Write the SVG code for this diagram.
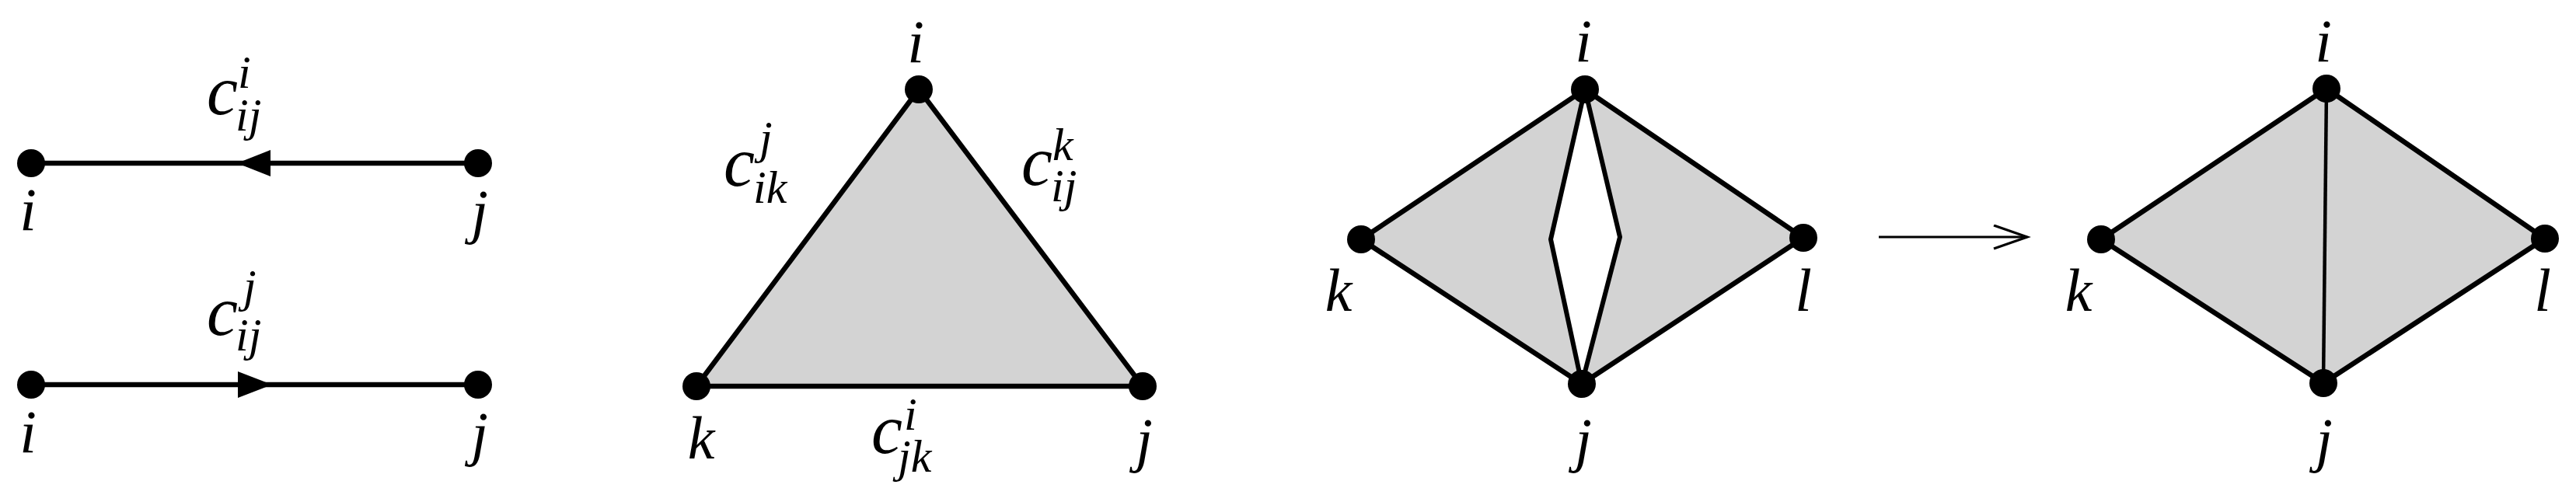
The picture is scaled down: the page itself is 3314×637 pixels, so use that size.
<svg xmlns="http://www.w3.org/2000/svg" width="3314" height="637" viewBox="0 0 3314 637">
<style>
.t{font-family:"Liberation Serif","Times New Roman",serif;font-style:italic;fill:#000}
.lbl{font-size:78px;text-anchor:middle}
.c{font-size:90px}
.s{font-size:60px}
.e{stroke:#000;stroke-width:6.5;fill:none;stroke-linecap:round;stroke-linejoin:round}
.thin{stroke:#000;stroke-width:4.5;fill:none}
.face{fill:#d3d3d3;stroke:none}
.nd{fill:#000}
</style>
<defs>
<marker id="chev" markerWidth="60" markerHeight="40" refX="44" refY="16" orient="auto" markerUnits="userSpaceOnUse">
<path d="M1,1 L44,16 L1,31" fill="none" stroke="#000" stroke-width="3.2"/>
</marker>
</defs>
<rect width="3314" height="637" fill="#fff"/>
<g id="faces">
<polygon class="face" points="1182,115 896,497 1470,497"/>
<polygon class="face" points="2039,115 2320,306 2035,494 1751,308"/>
<polygon points="2039,115 1995,308 2035,494 2084,305" fill="#fff" stroke="#000" stroke-width="6" stroke-linejoin="round"/>
<polygon class="face" points="2993,114 3274,307 2989,493 2703,308"/>
</g>
<g id="connectors">
<line class="e" x1="40" y1="210" x2="615" y2="210"/>
<polygon points="305,210 348,193 348,227" fill="#000"/>
<line class="e" x1="40" y1="495" x2="615" y2="495"/>
<polygon points="350,495 306,478 306,512" fill="#000"/>
<polygon class="e" points="1182,115 896,497 1470,497"/>
<polygon class="e" points="2039,115 2320,306 2035,494 1751,308"/>
<line x1="2417" y1="305" x2="2608" y2="305" stroke="#000" stroke-width="3.2" marker-end="url(#chev)"/>
<polygon class="e" points="2993,114 3274,307 2989,493 2703,308"/>
<line class="thin" x1="2993" y1="114" x2="2989" y2="493"/>
</g>
<g id="edge-labels">
<text id="lab-top" class="t"><tspan class="c" x="266" y="147">c</tspan><tspan class="s" x="306" y="113">i</tspan><tspan class="s" x="303" y="168">ij</tspan></text>
<text id="lab-bottom" class="t"><tspan class="c" x="266" y="431">c</tspan><tspan class="s" x="313" y="388">j</tspan><tspan class="s" x="303" y="451">ij</tspan></text>
<text id="lab-ik" class="t"><tspan class="c" x="931" y="239">c</tspan><tspan class="s" x="977" y="197">j</tspan><tspan class="s" x="969" y="261">ik</tspan></text>
<text id="lab-ij" class="t"><tspan class="c" x="1314" y="238">c</tspan><tspan class="s" x="1354" y="206">k</tspan><tspan class="s" x="1352" y="259">ij</tspan></text>
<text id="lab-jk" class="t"><tspan class="c" x="1121" y="583">c</tspan><tspan class="s" x="1163" y="553">i</tspan><tspan class="s" x="1155" y="607">jk</tspan></text>
</g>
<g id="n1i"><circle class="nd" cx="40" cy="210" r="18"/><text class="t lbl" x="36" y="296">i</text></g>
<g id="n1j"><circle class="nd" cx="615" cy="210" r="18"/><text class="t lbl" x="617" y="298">j</text></g>
<g id="n2i"><circle class="nd" cx="40" cy="495" r="18"/><text class="t lbl" x="36" y="582">i</text></g>
<g id="n2j"><circle class="nd" cx="615" cy="495" r="18"/><text class="t lbl" x="617" y="584">j</text></g>
<g id="t-i"><circle class="nd" cx="1182" cy="115" r="18"/><text class="t lbl" x="1178" y="80">i</text></g>
<g id="t-k"><circle class="nd" cx="896" cy="497" r="18"/><text class="t lbl" x="902" y="590">k</text></g>
<g id="t-j"><circle class="nd" cx="1470" cy="497" r="18"/><text class="t lbl" x="1472" y="592">j</text></g>
<g id="d1-i"><circle class="nd" cx="2039" cy="115" r="18"/><text class="t lbl" x="2037" y="79">i</text></g>
<g id="d1-k"><circle class="nd" cx="1751" cy="308" r="18"/><text class="t lbl" x="1722" y="400">k</text></g>
<g id="d1-l"><circle class="nd" cx="2320" cy="306" r="18"/><text class="t lbl" x="2320" y="400">l</text></g>
<g id="d1-j"><circle class="nd" cx="2035" cy="494" r="18"/><text class="t lbl" x="2037" y="592">j</text></g>
<g id="d2-i"><circle class="nd" cx="2993" cy="114" r="18"/><text class="t lbl" x="2989" y="79">i</text></g>
<g id="d2-k"><circle class="nd" cx="2703" cy="308" r="18"/><text class="t lbl" x="2674" y="400">k</text></g>
<g id="d2-l"><circle class="nd" cx="3274" cy="307" r="18"/><text class="t lbl" x="3271" y="400">l</text></g>
<g id="d2-j"><circle class="nd" cx="2989" cy="493" r="18"/><text class="t lbl" x="2990" y="592">j</text></g>
</svg>
